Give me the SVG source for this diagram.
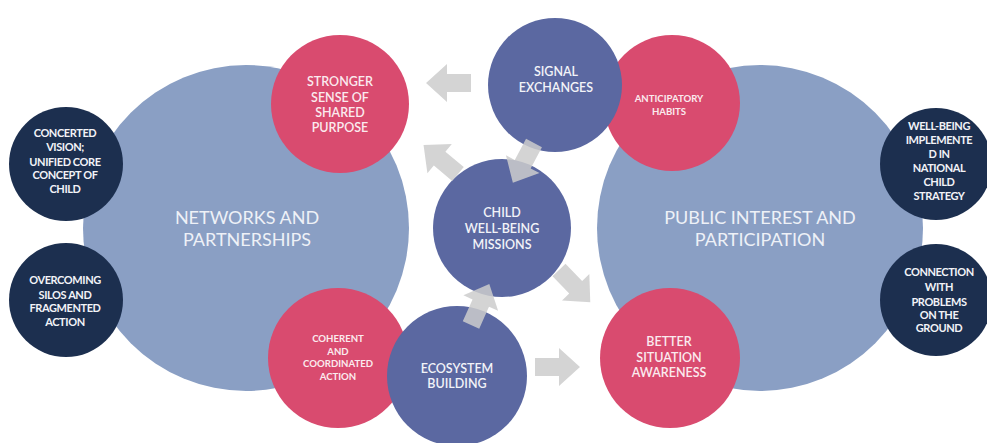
<svg xmlns="http://www.w3.org/2000/svg" width="987" height="443" viewBox="0 0 987 443">
<defs>
<style>
.big{fill:#8a9fc4}
.pink{fill:#d94b6f}
.mid{fill:#5b68a1}
.navy{fill:#1c2f4f}
text{font-family:Lato,"Open Sans","Liberation Sans",sans-serif;text-anchor:middle;fill:#f2f3f8}
.tb{font-size:18px;fill:#eef1f7}
.tp{font-size:12.5px;fill:#fbeaee;font-weight:600}
.tm{font-size:12.5px;font-weight:600}
.tn{font-size:11px;letter-spacing:-0.4px;font-weight:700}
.ts{font-size:9.6px;fill:#fbeaee;font-weight:700}
.arrow{fill:#cdcdcd;opacity:0.85}
</style>
<polygon id="arr" points="0,-9 24,-9 24,-19 45,0 24,19 24,9 0,9"/>
</defs>
<rect width="987" height="443" fill="#ffffff"/>

<g id="networks">
<circle class="big" cx="246" cy="228" r="163"/>
<text class="tb" x="247" y="224">NETWORKS AND</text>
<text class="tb" x="247" y="246">PARTNERSHIPS</text>
</g>
<g id="public">
<circle class="big" cx="760" cy="228" r="163"/>
<text class="tb" x="760" y="224">PUBLIC INTEREST AND</text>
<text class="tb" x="760" y="246">PARTICIPATION</text>
</g>

<g id="concerted">
<circle class="navy" cx="66" cy="164" r="57"/>
<text class="tn" x="65" y="137">CONCERTED</text>
<text class="tn" x="65" y="151">VISION;</text>
<text class="tn" x="65" y="166">UNIFIED CORE</text>
<text class="tn" x="65" y="179">CONCEPT OF</text>
<text class="tn" x="65" y="193">CHILD</text>
</g>
<g id="overcoming">
<circle class="navy" cx="66" cy="300" r="57"/>
<text class="tn" x="65" y="284">OVERCOMING</text>
<text class="tn" x="65" y="299">SILOS AND</text>
<text class="tn" x="65" y="312">FRAGMENTED</text>
<text class="tn" x="65" y="326">ACTION</text>
</g>
<g id="wellbeing-implemented">
<circle class="navy" cx="936" cy="164" r="56"/>
<text class="tn" x="939" y="130">WELL-BEING</text>
<text class="tn" x="939" y="144">IMPLEMENTE</text>
<text class="tn" x="939" y="158">D IN</text>
<text class="tn" x="939" y="172">NATIONAL</text>
<text class="tn" x="939" y="186">CHILD</text>
<text class="tn" x="939" y="200">STRATEGY</text>
</g>
<g id="connection">
<circle class="navy" cx="936" cy="300" r="56"/>
<text class="tn" x="939" y="276">CONNECTION</text>
<text class="tn" x="939" y="291">WITH</text>
<text class="tn" x="939" y="306">PROBLEMS</text>
<text class="tn" x="939" y="319">ON THE</text>
<text class="tn" x="939" y="332">GROUND</text>
</g>

<g id="stronger">
<circle class="pink" cx="340" cy="104" r="69"/>
<text class="tp" x="340" y="86">STRONGER</text>
<text class="tp" x="340" y="102">SENSE OF</text>
<text class="tp" x="340" y="117">SHARED</text>
<text class="tp" x="340" y="132">PURPOSE</text>
</g>
<g id="coherent">
<circle class="pink" cx="338" cy="358" r="70"/>
<text class="ts" x="338" y="342">COHERENT</text>
<text class="ts" x="338" y="355">AND</text>
<text class="ts" x="338" y="367">COORDINATED</text>
<text class="ts" x="338" y="380">ACTION</text>
</g>
<g id="anticipatory">
<circle class="pink" cx="672" cy="103" r="68"/>
<text class="ts" x="669" y="102">ANTICIPATORY</text>
<text class="ts" x="669" y="115">HABITS</text>
</g>
<g id="better">
<circle class="pink" cx="670" cy="358" r="70"/>
<text class="tp" x="669" y="346">BETTER</text>
<text class="tp" x="669" y="362">SITUATION</text>
<text class="tp" x="669" y="377">AWARENESS</text>
</g>

<g id="signal">
<circle class="mid" cx="555" cy="85" r="67"/>
<text class="tm" x="556" y="76">SIGNAL</text>
<text class="tm" x="556" y="92">EXCHANGES</text>
</g>
<g id="child">
<circle class="mid" cx="502" cy="228" r="69"/>
<text class="tm" x="502" y="217">CHILD</text>
<text class="tm" x="502" y="233">WELL-BEING</text>
<text class="tm" x="502" y="249">MISSIONS</text>
</g>
<g id="ecosystem">
<circle class="mid" cx="457" cy="376" r="70"/>
<text class="tm" x="457" y="373">ECOSYSTEM</text>
<text class="tm" x="457" y="388">BUILDING</text>
</g>

<g id="connectors" class="arrow">
<use href="#arr" transform="translate(471,83) rotate(180)"/>
<use href="#arr" transform="translate(458,174) rotate(-140)"/>
<use href="#arr" transform="translate(534,143) rotate(118)"/>
<use href="#arr" transform="translate(471,325) rotate(-66)"/>
<use href="#arr" transform="translate(559,270) rotate(46)"/>
<use href="#arr" transform="translate(535,367)"/>
</g>
</svg>
